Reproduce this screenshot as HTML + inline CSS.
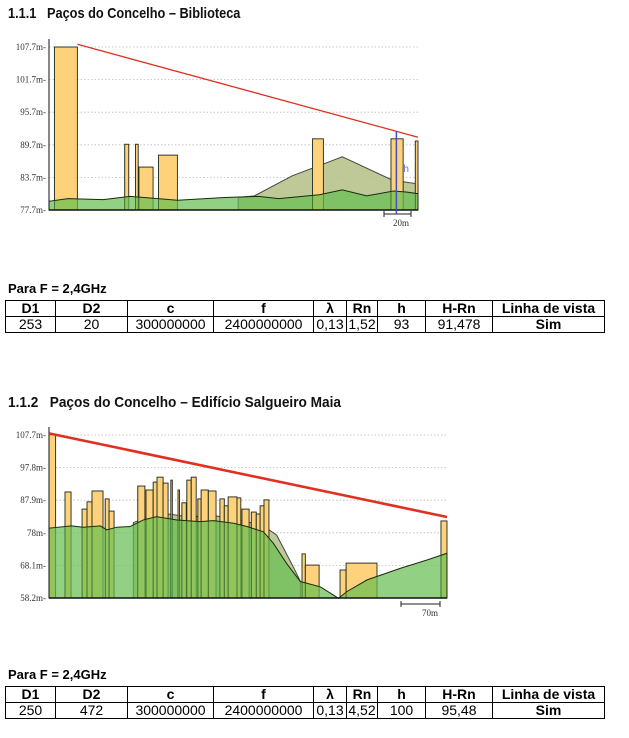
<!DOCTYPE html>
<html><head><meta charset="utf-8">
<style>
body{margin:0;background:#fff;width:629px;height:738px;position:relative;overflow:hidden;font-family:"Liberation Sans",Arial,sans-serif}
.h{position:absolute;left:8px;font-family:"Liberation Sans",sans-serif;font-weight:bold;font-size:15px;color:#111;white-space:pre;transform-origin:0 0}
.pf{position:absolute;left:8px;font-weight:bold;font-size:13px}
table{position:absolute;left:5px;border-collapse:collapse;font-size:14px;table-layout:fixed}
td{border:1.5px solid #000;text-align:center;height:15px;padding:0;line-height:15px;white-space:nowrap;overflow:hidden}
tr.hd td{font-weight:bold}
svg{position:absolute;left:0;top:0}
</style></head><body>
<div class="h" style="top:5px;transform:scaleX(0.85)">1.1.1   Paços do Concelho – Biblioteca</div>
<div class="h" style="top:394px;transform:scaleX(0.91)">1.1.2   Paços do Concelho – Edifício Salgueiro Maia</div>
<svg id="c" width="629" height="738"></svg>
<div class="pf" style="top:281px">Para F = 2,4GHz</div>
<table style="top:300px">
<colgroup><col style="width:50px"><col style="width:72px"><col style="width:86px"><col style="width:100px"><col style="width:33px"><col style="width:31px"><col style="width:48px"><col style="width:67px"><col style="width:112px"></colgroup>
<tr class="hd"><td>D1</td><td>D2</td><td>c</td><td>f</td><td>λ</td><td>Rn</td><td>h</td><td>H-Rn</td><td>Linha de vista</td></tr>
<tr><td>253</td><td>20</td><td>300000000</td><td>2400000000</td><td>0,13</td><td>1,52</td><td>93</td><td>91,478</td><td><b>Sim</b></td></tr>
</table>
<div class="pf" style="top:667px">Para F = 2,4GHz</div>
<table style="top:686px">
<colgroup><col style="width:50px"><col style="width:72px"><col style="width:86px"><col style="width:100px"><col style="width:33px"><col style="width:31px"><col style="width:48px"><col style="width:67px"><col style="width:112px"></colgroup>
<tr class="hd"><td>D1</td><td>D2</td><td>c</td><td>f</td><td>λ</td><td>Rn</td><td>h</td><td>H-Rn</td><td>Linha de vista</td></tr>
<tr><td>250</td><td>472</td><td>300000000</td><td>2400000000</td><td>0,13</td><td>4,52</td><td>100</td><td>95,48</td><td><b>Sim</b></td></tr>
</table>
<script>
// Chart 1 data (meters / altitude m)
const c1Ticks=[77.7,83.7,89.7,95.7,101.7,107.7];
const c1TickLabels=["77.7m","83.7m","89.7m","95.7m","101.7m","107.7m"];
const c1BStart=[4,56,64,66.5,81,195,253,271];
const c1BEnd=[21,59,66,77,95,203,262,273];
const c1BHeight=[107.7,89.8,89.8,85.6,87.8,90.8,90.8,90.4];
const c1GroundX=[0,14,40,60,75,95,130,155,170,200,217,235,255,265,273];
const c1GroundY=[79.3,79.8,79.6,80.2,79.9,79.5,80,80.2,79.8,80.5,81.4,80.3,81.2,81.0,80.7];
const c1HillX=[140,152,180,217,254,273];
const c1HillY=[80.0,80.3,84.0,87.5,83.2,82.5];
const c1Los=[[21,108.2],[273,91.1]];
// Chart 2 data
const c2Ticks=[58.2,68.1,78,87.9,97.8,107.7];
const c2TickLabels=["58.2m","68.1m","78m","87.9m","97.8m","107.7m"];
const c2BStart=[0,29,60,69,78,102,109,161,176,189,196,207,221,234,241,250,258,270,276,289,310,318,325,341,350,367,376,383,390,459,465,528,539,711];
const c2BEnd=[12,40,69,78,98,109,118,174,189,196,207,216,223,236,249,258,267,276,289,303,318,325,341,348,363,376,383,390,399,465,490,539,595,722];
const c2BHeight=[107.8,90.4,85.2,87.4,90.7,88.3,84.6,92.2,91.0,93.4,94.9,93.1,94.0,91.0,87.1,94.0,94.9,88.3,91.0,90.7,88.3,86.2,88.9,88.6,85.2,84.3,83.7,86.2,88.0,71.6,68.2,66.7,68.8,81.6];
const c2GroundX=[0,41,62,93,105,123,147,171,195,232,274,298,335,359,389,407,431,456,492,516,525,540,577,637,685,722];
const c2GroundY=[79.4,80.1,79.7,80.1,78.9,79.7,79.9,81.9,82.9,81.9,81.4,81.7,80.9,79.9,78.3,74.8,68.7,63.2,61.6,59.1,58.1,60.1,63.7,67.2,69.7,71.8];
const c2HillX=[153,201,250,304,347,389,413,443,456];
const c2HillY=[81.1,84.1,82.9,83.1,81.9,80.1,77.3,67.7,63.2];
const c2Los=[[0,108.2],[722,82.8]];

const NS="http://www.w3.org/2000/svg";
const svg=document.getElementById('c');
function mk(tag,attrs,parent){const e=document.createElementNS(NS,tag);for(const k in attrs)e.setAttribute(k,attrs[k]);(parent||svg).appendChild(e);return e;}

function chart(cfg){
  const g=mk('g',{});
  
  
  const xs=m=>cfg.x0+(m-cfg.m0)/(cfg.m1-cfg.m0)*(cfg.x1-cfg.x0);
  const ys=v=>cfg.y0-(v-cfg.v0)/(cfg.v1-cfg.v0)*(cfg.y0-cfg.y1);
  cfg.ticks.forEach((t,i)=>{
    const y=ys(t);
    if(i>0){const l=mk('line',{x1:cfg.x0,x2:cfg.x1,y1:y,y2:y,stroke:'#bbb','stroke-dasharray':'1.5,2','stroke-width':0.8},g);
    }
    const tx=mk('text',{x:cfg.x0-3,y:y+3,'text-anchor':'end','font-size':9,'font-family':'Liberation Serif,serif',fill:'#333'},g);
    tx.textContent=cfg.tickLabels[i]+'-';
    
    
  });
  const base=ys(cfg.v0);
  let hp=`M${xs(cfg.hillX[0])},${base}`;cfg.hillX.forEach((m,i)=>hp+=`L${xs(m)},${ys(cfg.hillY[i])}`);hp+=`L${xs(cfg.hillX[cfg.hillX.length-1])},${base}Z`;
  const hill=mk('path',{d:hp,fill:'#b8c48c',stroke:'#333','stroke-width':1,opacity:0.9},g);
  
  
  cfg.bs.forEach((s,i)=>{
    const x=xs(s),w=Math.max(1.5,xs(cfg.be[i])-x),y=ys(cfg.bh[i]);
    const r=mk('rect',{x:x,y:y,width:w,height:base-y,fill:'#fdd27a',stroke:'#222','stroke-width':0.9},g);
    
    
  });
  let gp=`M${xs(cfg.gX[0])},${base}`;cfg.gX.forEach((m,i)=>gp+=`L${xs(m)},${ys(cfg.gY[i])}`);gp+=`L${xs(cfg.gX[cfg.gX.length-1])},${base}Z`;
  const gr=mk('path',{d:gp,fill:'rgba(100,190,80,0.7)',stroke:'#1a2a10','stroke-width':1},g);
  
  
  cfg.bs.forEach((s,i)=>{
    const l=mk('line',{x1:xs(s),x2:xs(s),y1:ys(cfg.bh[i]),y2:base,stroke:'rgba(40,70,20,0.5)','stroke-width':0.8},g);
    
    
  });
  const ax=mk('line',{x1:cfg.x0,x2:cfg.x1,y1:base,y2:base,stroke:'#111','stroke-width':1.5},g);
  
  const ay=mk('line',{x1:cfg.x0,x2:cfg.x0,y1:cfg.y1-8,y2:base,stroke:'#111','stroke-width':1},g);
  
  const los=mk('line',{x1:xs(cfg.los[0][0]),y1:ys(cfg.los[0][1]),x2:xs(cfg.los[1][0]),y2:ys(cfg.los[1][1]),stroke:'#e03020','stroke-width':cfg.losW},g);
  
  
  const sb=mk('path',{d:`M${cfg.sb[0]},${cfg.sb[2]-3}v6M${cfg.sb[0]},${cfg.sb[2]}H${cfg.sb[1]}M${cfg.sb[1]},${cfg.sb[2]-3}v6`,stroke:'#222','stroke-width':1,fill:'none'},g);
  
  const st=mk('text',{x:cfg.sb[1]-2,y:cfg.sb[2]+12,'text-anchor':'end','font-size':9,'font-family':'Liberation Serif,serif',fill:'#333'},g);
  st.textContent=cfg.sbLabel;
  
  return {xs,ys,g};
}
const a=chart({name:'profile-chart-1',x0:49,x1:418,y0:210,y1:47,m0:0,m1:273,v0:77.7,v1:107.7,
  ticks:c1Ticks,tickLabels:c1TickLabels,bs:c1BStart,be:c1BEnd,bh:c1BHeight,gX:c1GroundX,gY:c1GroundY,hillX:c1HillX,hillY:c1HillY,los:c1Los,losW:1.3,sb:[384,411,214],sbLabel:'20m'});
const hl=mk('line',{x1:a.xs(257),x2:a.xs(257),y1:131,y2:214,stroke:'#4050c0','stroke-width':1.5},a.g);

const ht=mk('text',{x:a.xs(257)+7,y:172,'font-size':10,fill:'#6070d0'},a.g);ht.textContent='h';

chart({name:'profile-chart-2',x0:49,x1:447,y0:598,y1:435,m0:0,m1:722,v0:58.2,v1:107.7,
  ticks:c2Ticks,tickLabels:c2TickLabels,bs:c2BStart,be:c2BEnd,bh:c2BHeight,gX:c2GroundX,gY:c2GroundY,hillX:c2HillX,hillY:c2HillY,los:c2Los,losW:2.6,sb:[401,440,604],sbLabel:'70m'});
</script>
</body></html>
